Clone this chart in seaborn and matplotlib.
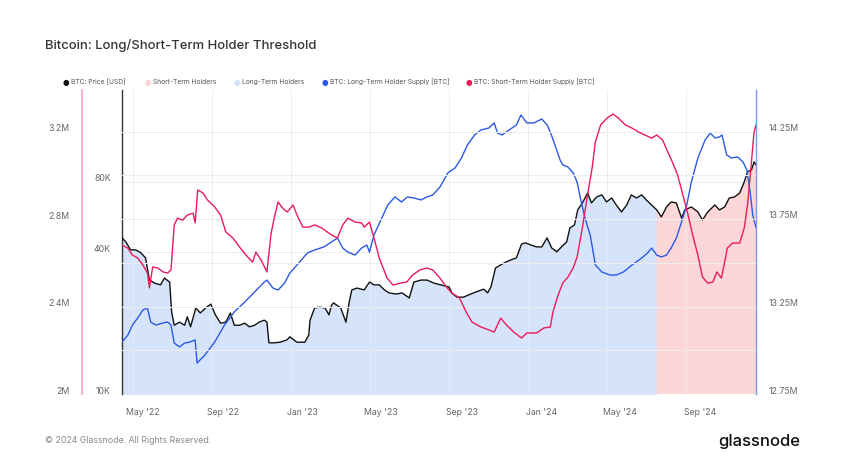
import numpy as np
import pandas as pd
import matplotlib
matplotlib.use("Agg")
import matplotlib.pyplot as plt
import matplotlib.dates as mdates
import matplotlib.ticker as mticker
import matplotlib.transforms as mtransforms
import seaborn as sns

# ---- data ----
price_dates = [
    "2022-03-30", "2022-04-05", "2022-04-12", "2022-04-20", "2022-04-28", "2022-05-05", "2022-05-11",
    "2022-05-19", "2022-05-28", "2022-06-03", "2022-06-11", "2022-06-14", "2022-06-18", "2022-06-26",
    "2022-07-04", "2022-07-08", "2022-07-13", "2022-07-21", "2022-07-28", "2022-08-05", "2022-08-13",
    "2022-08-20", "2022-08-28", "2022-09-05", "2022-09-12", "2022-09-18", "2022-09-26", "2022-10-04",
    "2022-10-11", "2022-10-19", "2022-10-26", "2022-11-03", "2022-11-07", "2022-11-10", "2022-11-18",
    "2022-11-27", "2022-12-08", "2022-12-12", "2022-12-23", "2023-01-04", "2023-01-10", "2023-01-12",
    "2023-01-19", "2023-01-27", "2023-02-04", "2023-02-10", "2023-02-14", "2023-02-17", "2023-02-28",
    "2023-03-08", "2023-03-13", "2023-03-17", "2023-03-25", "2023-04-05", "2023-04-13", "2023-04-20",
    "2023-04-28", "2023-05-06", "2023-05-13", "2023-05-24", "2023-06-02", "2023-06-13", "2023-06-20",
    "2023-07-01", "2023-07-10", "2023-07-21", "2023-07-31", "2023-08-13", "2023-08-17", "2023-08-25",
    "2023-09-04", "2023-09-15", "2023-09-24", "2023-10-05", "2023-10-11", "2023-10-16", "2023-10-23",
    "2023-10-31", "2023-11-08", "2023-11-15", "2023-11-24", "2023-12-02", "2023-12-08", "2023-12-16",
    "2023-12-25", "2024-01-02", "2024-01-10", "2024-01-17", "2024-01-25", "2024-02-01", "2024-02-09",
    "2024-02-14", "2024-02-21", "2024-02-26", "2024-03-05", "2024-03-12", "2024-03-18", "2024-03-26",
    "2024-04-03", "2024-04-10", "2024-04-18", "2024-04-25", "2024-05-03", "2024-05-11", "2024-05-18",
    "2024-05-26", "2024-06-03", "2024-06-10", "2024-06-18", "2024-06-26", "2024-07-03", "2024-07-11",
    "2024-07-18", "2024-07-26", "2024-08-03", "2024-08-08", "2024-08-18", "2024-08-28", "2024-09-04",
    "2024-09-12", "2024-09-23", "2024-09-30", "2024-10-08", "2024-10-15", "2024-10-23", "2024-10-31",
    "2024-11-07", "2024-11-12", "2024-11-18", "2024-11-22", "2024-11-25",
]
price_usd = [
    46100, 44300, 41000, 41000, 39800, 37900, 30500,
    29600, 29100, 31100, 29900, 22300, 19600, 20200,
    19600, 21300, 19300, 23200, 22100, 23200, 24100,
    21700, 20000, 20200, 22100, 19600, 19600, 20000,
    19300, 19600, 20200, 20600, 20200, 16500, 16500,
    16600, 17000, 17500, 16600, 16600, 17800, 20600,
    23200, 23400, 23200, 21700, 23900, 24400, 23200,
    20200, 24600, 27700, 28200, 27700, 29900, 29100,
    29100, 27700, 26900, 26600, 26900, 25600, 29900,
    30500, 30500, 29600, 29100, 28500, 26900, 25800,
    25800, 26600, 27200, 27900, 26900, 28500, 34300,
    35400, 36400, 37100, 37900, 43400, 43900, 43000,
    42200, 42200, 46100, 41800, 40200, 42200, 44300,
    50800, 52300, 60600, 65500, 71500, 64900, 68800,
    70200, 65500, 68100, 63600, 59400, 63600, 70200,
    68100, 70200, 66800, 63600, 60600, 56600, 62400,
    65500, 64900, 56000, 60600, 62400, 59400, 54900,
    59400, 63600, 60600, 62400, 68100, 68800, 71500,
    79700, 87900, 89600, 96900, 94100,
]

# short-term holder supply, millions of BTC
sth_dates = [
    "2022-03-30", "2022-04-08", "2022-04-15", "2022-04-23", "2022-05-01", "2022-05-08", "2022-05-11",
    "2022-05-16", "2022-05-24", "2022-06-01", "2022-06-08", "2022-06-13", "2022-06-18", "2022-06-23",
    "2022-07-01", "2022-07-08", "2022-07-17", "2022-07-20", "2022-07-24", "2022-08-01", "2022-08-08",
    "2022-08-19", "2022-08-28", "2022-09-05", "2022-09-16", "2022-09-26", "2022-10-06", "2022-10-16",
    "2022-10-21", "2022-10-29", "2022-11-07", "2022-11-13", "2022-11-18", "2022-11-24", "2022-12-01",
    "2022-12-08", "2022-12-17", "2022-12-23", "2023-01-01", "2023-01-10", "2023-01-19", "2023-01-30",
    "2023-02-12", "2023-02-23", "2023-03-03", "2023-03-11", "2023-03-22", "2023-04-01", "2023-04-05",
    "2023-04-13", "2023-04-20", "2023-04-28", "2023-05-10", "2023-05-19", "2023-05-30", "2023-06-09",
    "2023-06-18", "2023-06-29", "2023-07-10", "2023-07-19", "2023-07-30", "2023-08-10", "2023-08-17",
    "2023-08-29", "2023-09-08", "2023-09-17", "2023-10-01", "2023-10-13", "2023-10-21", "2023-10-31",
    "2023-11-09", "2023-11-20", "2023-12-02", "2023-12-10", "2023-12-25", "2024-01-05", "2024-01-15",
    "2024-01-19", "2024-01-27", "2024-02-03", "2024-02-11", "2024-02-19", "2024-02-25", "2024-03-04",
    "2024-03-12", "2024-03-19", "2024-03-24", "2024-04-01", "2024-04-11", "2024-04-20", "2024-04-28",
    "2024-05-09", "2024-05-19", "2024-05-29", "2024-06-08", "2024-06-18", "2024-06-26", "2024-07-05",
    "2024-07-13", "2024-07-20", "2024-07-28", "2024-08-05", "2024-08-13", "2024-08-20", "2024-08-28",
    "2024-09-04", "2024-09-12", "2024-09-20", "2024-09-26", "2024-10-03", "2024-10-08", "2024-10-12",
    "2024-10-20", "2024-10-31", "2024-11-07", "2024-11-12", "2024-11-18", "2024-11-22", "2024-11-25",
]
sth_supply = [
    2.681, 2.667, 2.635, 2.622, 2.590, 2.553, 2.485,
    2.581, 2.576, 2.558, 2.553, 2.567, 2.773, 2.804,
    2.795, 2.818, 2.827, 2.782, 2.933, 2.919, 2.887,
    2.855, 2.818, 2.741, 2.713, 2.672, 2.635, 2.603,
    2.649, 2.613, 2.558, 2.727, 2.804, 2.878, 2.850,
    2.832, 2.864, 2.818, 2.763, 2.763, 2.773, 2.759,
    2.731, 2.713, 2.773, 2.804, 2.786, 2.782, 2.763,
    2.786, 2.713, 2.622, 2.530, 2.498, 2.507, 2.512,
    2.544, 2.567, 2.576, 2.567, 2.530, 2.485, 2.462,
    2.439, 2.375, 2.329, 2.306, 2.293, 2.283, 2.347,
    2.315, 2.283, 2.256, 2.279, 2.279, 2.302, 2.306,
    2.375, 2.453, 2.507, 2.535, 2.576, 2.626, 2.759,
    2.910, 3.033, 3.152, 3.230, 3.262, 3.280, 3.262,
    3.230, 3.216, 3.198, 3.184, 3.170, 3.184, 3.161,
    3.106, 3.060, 3.001, 2.910, 2.818, 2.727, 2.635,
    2.535, 2.507, 2.512, 2.558, 2.530, 2.603, 2.667,
    2.690, 2.690, 2.759, 2.864, 3.060, 3.198, 3.230,
]

# long-term holder supply, millions of BTC
lth_dates = [
    "2022-03-30", "2022-04-08", "2022-04-15", "2022-04-23", "2022-05-01", "2022-05-08", "2022-05-13",
    "2022-05-21", "2022-06-01", "2022-06-08", "2022-06-13", "2022-06-18", "2022-06-26", "2022-07-04",
    "2022-07-12", "2022-07-20", "2022-07-23", "2022-08-04", "2022-08-19", "2022-09-03", "2022-09-18",
    "2022-10-04", "2022-10-19", "2022-11-03", "2022-11-07", "2022-11-16", "2022-11-24", "2022-12-04",
    "2022-12-12", "2022-12-27", "2023-01-08", "2023-01-19", "2023-02-02", "2023-02-14", "2023-02-23",
    "2023-03-03", "2023-03-11", "2023-03-22", "2023-04-01", "2023-04-09", "2023-04-13", "2023-04-20",
    "2023-05-02", "2023-05-11", "2023-05-22", "2023-06-01", "2023-06-10", "2023-06-20", "2023-07-01",
    "2023-07-10", "2023-07-19", "2023-07-30", "2023-08-11", "2023-08-22", "2023-09-01", "2023-09-10",
    "2023-09-21", "2023-10-01", "2023-10-13", "2023-10-21", "2023-10-26", "2023-11-02", "2023-11-13",
    "2023-11-24", "2023-12-01", "2023-12-10", "2023-12-21", "2023-12-30", "2024-01-02", "2024-01-10",
    "2024-01-15", "2024-01-22", "2024-01-30", "2024-02-03", "2024-02-11", "2024-02-19", "2024-02-25",
    "2024-03-01", "2024-03-08", "2024-03-16", "2024-03-24", "2024-04-03", "2024-04-15", "2024-04-25",
    "2024-05-06", "2024-05-19", "2024-06-03", "2024-06-12", "2024-06-18", "2024-06-26", "2024-07-03",
    "2024-07-11", "2024-07-18", "2024-07-26", "2024-08-03", "2024-08-11", "2024-08-18", "2024-08-28",
    "2024-09-08", "2024-09-16", "2024-09-23", "2024-09-30", "2024-10-04", "2024-10-11", "2024-10-18",
    "2024-10-28", "2024-11-05", "2024-11-11", "2024-11-16", "2024-11-20", "2024-11-25",
]
lth_supply = [
    13.047, 13.087, 13.144, 13.184, 13.230, 13.241, 13.161,
    13.144, 13.156, 13.161, 13.144, 13.041, 13.019, 13.041,
    13.047, 13.059, 12.927, 12.973, 13.047, 13.144, 13.219,
    13.276, 13.333, 13.390, 13.401, 13.356, 13.344, 13.384,
    13.441, 13.504, 13.556, 13.573, 13.590, 13.619, 13.641,
    13.584, 13.561, 13.544, 13.584, 13.601, 13.561, 13.659,
    13.756, 13.830, 13.876, 13.847, 13.876, 13.870, 13.859,
    13.876, 13.887, 13.933, 14.013, 14.041, 14.099, 14.173,
    14.230, 14.259, 14.270, 14.299, 14.241, 14.230, 14.259,
    14.287, 14.344, 14.299, 14.299, 14.316, 14.321, 14.287,
    14.247, 14.173, 14.087, 14.059, 14.047, 14.013, 13.961,
    13.870, 13.756, 13.659, 13.487, 13.447, 13.430, 13.430,
    13.447, 13.487, 13.527, 13.556, 13.584, 13.544, 13.533,
    13.544, 13.584, 13.641, 13.733, 13.830, 13.961, 14.099,
    14.201, 14.241, 14.213, 14.219, 14.230, 14.116, 14.099,
    14.104, 14.076, 14.030, 13.904, 13.773, 13.699,
]

# date where the shaded regime switches from long-term to short-term holders
sth_start = "2024-06-26"

# ---- styling ----
sns.set_style("white")
plt.rcParams["font.family"] = ["Inter", "DejaVu Sans"]

c_price = "#111111"
c_lth = "#2b59e6"
c_sth = "#ee1a5b"
c_lth_fill = "#d5e3fb"
c_sth_fill = "#fdd6d7"
c_grid = "#ededed"
c_tick = "#666666"

price = pd.DataFrame({"date": pd.to_datetime(price_dates), "price": price_usd})
sth = pd.DataFrame({"date": pd.to_datetime(sth_dates), "supply": sth_supply})
lth = pd.DataFrame({"date": pd.to_datetime(lth_dates), "supply": lth_supply})

fig = plt.figure(figsize=(8.51, 4.65), dpi=100)
W, H = 851, 465
x0, x1, y0, y1 = 122, 756, 90, 394
ax = fig.add_axes([x0 / W, 1 - y1 / H, (x1 - x0) / W, (y1 - y0) / H])
ax_lth = ax.twinx()
ax_sth = ax.twinx()

# holder-regime shading under the price
split = pd.Timestamp(sth_start)
ax.fill_between(price["date"], price["price"], 1000, where=price["date"] <= split,
                color=c_lth_fill, linewidth=0, zorder=1)
ax.fill_between(price["date"], price["price"], 1000, where=price["date"] >= split,
                color=c_sth_fill, linewidth=0, zorder=1)

sns.lineplot(data=price, x="date", y="price", ax=ax, color=c_price, linewidth=1.0, zorder=3)
sns.lineplot(data=lth, x="date", y="supply", ax=ax_lth, color=c_lth, linewidth=1.0)
sns.lineplot(data=sth, x="date", y="supply", ax=ax_sth, color=c_sth, linewidth=1.0)

# price axis (log)
ax.set_yscale("log")
ax.set_ylim(10000, 196000)
ax.set_xlim(pd.Timestamp("2022-03-30"), pd.Timestamp("2024-11-25"))
ax.yaxis.set_major_locator(mticker.FixedLocator([10000, 40000, 80000]))
ax.yaxis.set_minor_locator(mticker.NullLocator())
ax.yaxis.set_major_formatter(mticker.FuncFormatter(lambda v, p: f"{v/1000:.0f}K"))
ax.grid(axis="y", color=c_grid, linewidth=0.8, zorder=0)

# x axis
ax.xaxis.set_major_locator(mdates.MonthLocator(bymonth=[1, 5, 9]))
ax.xaxis.set_major_formatter(mdates.DateFormatter("%b '%y"))
ax.tick_params(axis="x", length=3, color="#cccccc", labelsize=6.3, labelcolor=c_tick, pad=7)
for d in pd.date_range("2022-04-16", "2024-11-25", freq="121D"):
    ax.axvline(d, color="#e8ecf4", linewidth=0.6, zorder=2)

# supply axes
ax_sth.set_ylim(2.0, 3.39)
ax_sth.set_yticks([2.0, 2.4, 2.8, 3.2])
ax_sth.set_yticks([2.2, 2.6, 3.0], minor=True)
ax_sth.yaxis.set_major_formatter(mticker.FuncFormatter(lambda v, p: f"{v:g}M"))
ax_sth.grid(axis="y", which="both", color=c_grid, linewidth=0.8)
ax_sth.yaxis.set_ticks_position("left")
ax_sth.yaxis.set_label_position("left")
ax_sth.spines["left"].set_position(("axes", -40 / (x1 - x0)))

ax_lth.set_ylim(12.75, 14.487)
ax_lth.set_yticks([12.75, 13.25, 13.75, 14.25])
ax_lth.yaxis.set_major_formatter(mticker.FuncFormatter(lambda v, p: f"{v:g}M"))

for a in (ax, ax_lth, ax_sth):
    a.set_xlabel("")
    a.set_ylabel("")
    for s in ("top", "bottom", "left", "right"):
        a.spines[s].set_visible(False)
    a.tick_params(axis="y", length=0, which="both", labelsize=6.3, labelcolor=c_tick)

ax.spines["left"].set_visible(True)
ax.spines["left"].set_color("#333333")
ax.spines["left"].set_linewidth(1.0)
ax_sth.spines["left"].set_visible(True)
ax_sth.spines["left"].set_color("#f5a0bd")
ax_sth.spines["left"].set_linewidth(1.2)
ax_lth.spines["right"].set_visible(True)
ax_lth.spines["right"].set_color("#7d98f0")
ax_lth.spines["right"].set_linewidth(1.0)

ax.tick_params(axis="y", pad=8)
ax_sth.tick_params(axis="y", pad=9)
ax_lth.tick_params(axis="y", pad=9)

# labels sit slightly above their gridline
shift = mtransforms.ScaledTranslation(0, 4 / 100, fig.dpi_scale_trans)
for a in (ax, ax_lth, ax_sth):
    for lbl in a.get_yticklabels():
        lbl.set_transform(lbl.get_transform() + shift)

# title, legend, footer
fig.text(45 / W, 1 - 45 / H, "Bitcoin: Long/Short-Term Holder Threshold",
         fontsize=9.4, color="#333333", va="center", ha="left", fontweight="medium")

legend_items = [
    (66, c_price, "BTC: Price [USD]"),
    (148, "#f8d3d3", "Short-Term Holders"),
    (237, "#d3e2fb", "Long-Term Holders"),
    (325, c_lth, "BTC: Long-Term Holder Supply [BTC]"),
    (469, c_sth, "BTC: Short-Term Holder Supply [BTC]"),
]
for lx, col, txt in legend_items:
    fig.text(lx / W, 1 - 82 / H, "\u25cf", color=col, fontsize=5.5, va="center", ha="center",
             family="DejaVu Sans")
    fig.text((lx + 5) / W, 1 - 82 / H, txt, color="#555555", fontsize=4.8, va="center", ha="left")

fig.text(45 / W, 1 - 440 / H, "\u00a9 2024 Glassnode. All Rights Reserved.",
         fontsize=6.3, color="#8a8a8a", va="center", ha="left")
fig.text(800 / W, 1 - 441 / H, "glassnode", fontsize=12, color="#111111",
         va="center", ha="right", fontweight="medium")

fig.savefig("out.png", dpi=100, facecolor="white")
